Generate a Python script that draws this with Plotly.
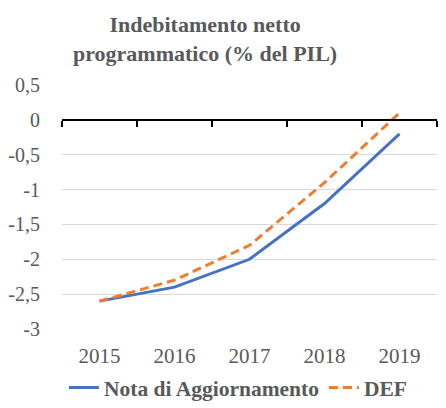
import plotly.graph_objects as go

years = ["2015", "2016", "2017", "2018", "2019"]
nota = [-2.6, -2.4, -2.0, -1.2, -0.2]
defv = [-2.6, -2.3, -1.8, -0.9, 0.1]
y_ticks = [0.5, 0, -0.5, -1, -1.5, -2, -2.5, -3]
y_tick_labels = ["0,5", "0", "-0,5", "-1", "-1,5", "-2", "-2,5", "-3"]
series_names = ["Nota di Aggiornamento", "DEF"]

FONT = "Liberation Serif, Times New Roman, serif"
GREY = "#595959"
ymin, ymax = -3, 0.5

# page body has an 8px default margin, so the figure is sized to fit the window
W, H = 438, 400
ML, MR, MT, MB = 54, 9, 77, 79

fig = go.Figure()
fig.add_trace(go.Scatter(x=years, y=nota, mode="lines", name=series_names[0],
                         line=dict(color="#4472C4", width=3)))
fig.add_trace(go.Scatter(x=years, y=defv, mode="lines", name=series_names[1],
                         line=dict(color="#ED7D31", width=3, dash="9px,5px")))
# carrier trace so the zero-line category axis (with boundary ticks) is drawn
fig.add_trace(go.Scatter(x=years, y=nota, xaxis="x2", mode="none",
                         showlegend=False, hoverinfo="skip"))

plot_h = H - MT - MB
plot_w = W - ML - MR

fig.update_layout(
    width=W, height=H,
    margin=dict(l=ML, r=MR, t=MT, b=MB, autoexpand=False),
    paper_bgcolor="white", plot_bgcolor="white",
    font=dict(family=FONT, color=GREY, size=21),
    annotations=[dict(text="<b>Indebitamento netto<br>programmatico (% del PIL)</b>",
                      x=(197 - ML) / plot_w, xref="paper", xanchor="center",
                      y=1 + (MT - 2) / plot_h, yref="paper", yanchor="top",
                      showarrow=False,
                      font=dict(family=FONT, size=22, color=GREY))],
    showlegend=True,
    legend=dict(orientation="h", x=0.525, xanchor="center", xref="container",
                y=0.0, yanchor="bottom", yref="container",
                bgcolor="rgba(0,0,0,0)",
                font=dict(family=FONT, size=21.5, color=GREY, weight="bold"),
                tracegroupgap=0),
    xaxis=dict(type="category", range=[-0.5, len(years) - 0.5],
               showgrid=False, showline=False, zeroline=False, ticks="",
               tickfont=dict(family=FONT, size=21, color=GREY),
               ticklabelstandoff=12),
    xaxis2=dict(type="category", overlaying="x", anchor="free",
                position=(0 - ymin) / (ymax - ymin),
                range=[-0.5, len(years) - 0.5], tickson="boundaries",
                ticks="outside", ticklen=6, tickwidth=2, tickcolor="black",
                showticklabels=False, showline=True, linecolor="black",
                linewidth=2, showgrid=False, zeroline=False),
    yaxis=dict(range=[ymin, ymax], tickvals=y_ticks, ticktext=y_tick_labels,
               showgrid=True, gridcolor="#D9D9D9", gridwidth=1,
               zeroline=False, showline=False, ticks="",
               tickfont=dict(family=FONT, size=20, color=GREY),
               ticklabelstandoff=21),
)

fig.write_html("out.html")
